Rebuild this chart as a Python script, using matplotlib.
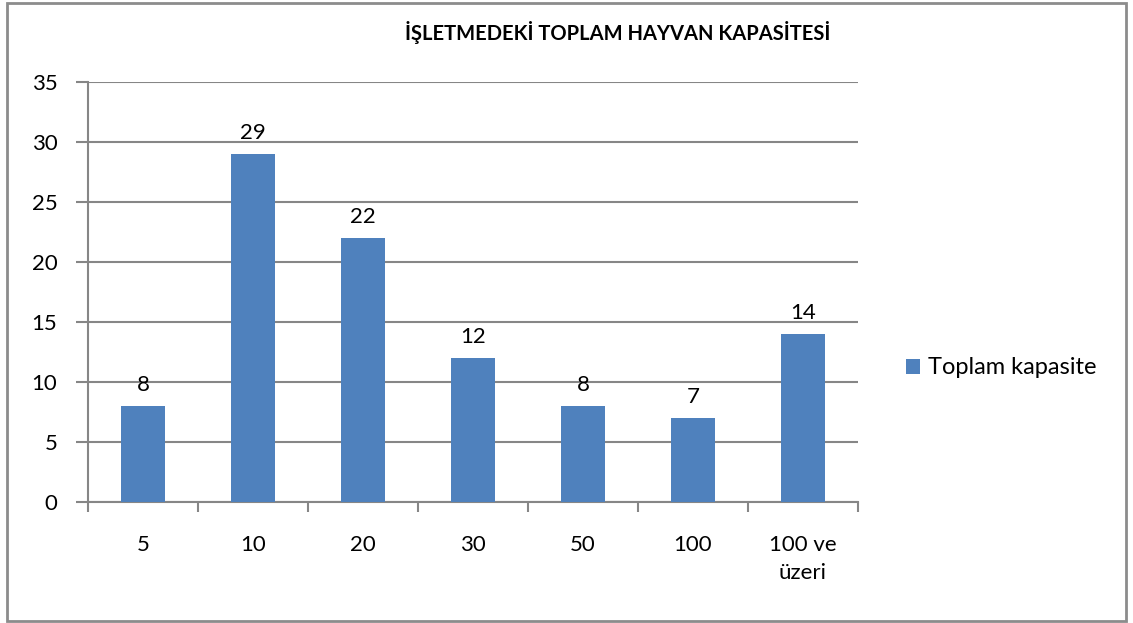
import matplotlib.pyplot as plt
from matplotlib.patches import Rectangle

plt.rcParams['font.family'] = ['Lato', 'DejaVu Sans']

# Data
categories = ["5", "10", "20", "30", "50", "100", "100 ve\nüzeri"]
values = [8, 29, 22, 12, 8, 7, 14]
series_name = "Toplam kapasite"
title = "İŞLETMEDEKİ TOPLAM HAYVAN KAPASİTESİ"

bar_color = "#4F81BD"
grid_color = "#868686"

fig = plt.figure(figsize=(11.33, 6.23), dpi=100)
ax = fig.add_axes([88 / 1133, 1 - 502 / 623, 770 / 1133, 420 / 623])

x = list(range(len(categories)))
bars = ax.bar(x, values, width=0.4, color=bar_color, label=series_name, zorder=3)
ax.bar_label(bars, padding=8, fontsize=16, color="black")

ax.set_xlim(-0.5, len(categories) - 0.5)
ax.set_ylim(0, 35)
ax.set_yticks(range(0, 36, 5))
ax.yaxis.grid(True, color=grid_color, linewidth=1.5, zorder=0)

ax.set_xticks(x)
ax.set_xticklabels(categories, fontsize=16, linespacing=1.45)
ax.set_xticks([i - 0.5 for i in range(len(categories) + 1)], minor=True)
ax.tick_params(axis="x", which="major", length=0, pad=24)
ax.tick_params(axis="x", which="minor", length=7, width=1.5, color=grid_color)
ax.tick_params(axis="y", length=9, width=1.5, color=grid_color, labelsize=16, pad=13)

for side in ["top", "right"]:
    ax.spines[side].set_visible(False)
for side in ["left", "bottom"]:
    ax.spines[side].set_color(grid_color)
    ax.spines[side].set_linewidth(1.5)

fig.text(618 / 1133, 1 - 32 / 623, title, ha="center", va="center",
         fontsize=14.5, fontweight="bold")

fig.legend(loc="center left", bbox_to_anchor=(885 / 1133, 1 - 368 / 623),
           frameon=False, fontsize=17, handlelength=0.6, handleheight=0.6,
           handletextpad=0.3)

# outer chart border
fig.patches.append(Rectangle((7 / 1133, 2 / 623), 1119 / 1133, 618 / 623,
                             transform=fig.transFigure, fill=False,
                             edgecolor="#8c8c8c", linewidth=2))

plt.savefig("out.png", dpi=100)
